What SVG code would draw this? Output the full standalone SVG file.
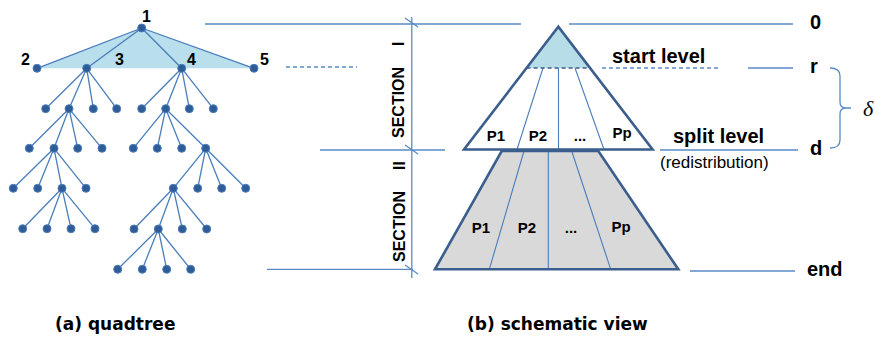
<svg xmlns="http://www.w3.org/2000/svg" width="875" height="349" viewBox="0 0 875 349">
<style>
.e{stroke:#4A7EBB;stroke-width:1.3;fill:none}
.g{stroke:#5B8AC6;stroke-width:1.3;fill:none}
.d{fill:#2F5C97;stroke:#4A7EBB;stroke-width:1}
.o{stroke:#3B5E8C;stroke-width:2.6;fill:none;stroke-linejoin:miter}
.p{stroke:#4A7EBB;stroke-width:1.1;fill:none}
.b{font-family:"Liberation Sans",Arial,sans-serif;font-weight:bold;fill:#000}
.c{font-family:"DejaVu Sans",sans-serif;font-weight:bold;font-size:17px;fill:#000}
.n{font-family:"Liberation Sans",Arial,sans-serif;fill:#000}
</style>
<rect width="875" height="349" fill="#fff"/>
<g id="tree">
<polygon points="141.7,28 37,68.3 254,68.3" fill="#B9DEEC"/>
<g class="e">
<path d="M141.7,28L37,68.3M141.7,28L86.7,68.3M141.7,28L181.7,68.3M141.7,28L254,68.3"/>
<path d="M86.7,68.3L45.7,108.7M86.7,68.3L69,108.7M86.7,68.3L93.3,108.7M86.7,68.3L116.7,108.7"/>
<path d="M181.7,68.3L141.7,108.7M181.7,68.3L165.7,108.7M181.7,68.3L189.3,108.7M181.7,68.3L213.3,108.7"/>
<path d="M69,108.7L29.3,148.3M69,108.7L54,148.3M69,108.7L77.7,148.3M69,108.7L102,148.3"/>
<path d="M165.7,108.7L133.3,148.3M165.7,108.7L157.3,148.3M165.7,108.7L181.7,148.3M165.7,108.7L205.7,148.3"/>
<path d="M54,148.3L13.3,188.3M54,148.3L37.7,188.3M54,148.3L62,188.3M54,148.3L86,188.3"/>
<path d="M205.7,148.3L173.3,188.3M205.7,148.3L197.7,188.3M205.7,148.3L221.7,188.3M205.7,148.3L245.7,188.3"/>
<path d="M62,188.3L22.7,228.7M62,188.3L47,228.7M62,188.3L71,228.7M62,188.3L95,228.7"/>
<path d="M173.3,188.3L134,229M173.3,188.3L158.3,229M173.3,188.3L182.3,229M173.3,188.3L206.7,229"/>
<path d="M158.3,229L117.7,269.3M158.3,229L142.3,269.3M158.3,229L166.7,269.3M158.3,229L190.7,269.3"/>
</g>
<g class="d">
<circle cx="141.7" cy="28" r="4"/>
<circle cx="37" cy="68.3" r="4"/><circle cx="86.7" cy="68.3" r="4"/><circle cx="181.7" cy="68.3" r="4"/><circle cx="254" cy="68.3" r="4"/>
<circle cx="45.7" cy="108.7" r="4"/><circle cx="69" cy="108.7" r="4"/><circle cx="93.3" cy="108.7" r="4"/><circle cx="116.7" cy="108.7" r="4"/>
<circle cx="141.7" cy="108.7" r="4"/><circle cx="165.7" cy="108.7" r="4"/><circle cx="189.3" cy="108.7" r="4"/><circle cx="213.3" cy="108.7" r="4"/>
<circle cx="29.3" cy="148.3" r="4"/><circle cx="54" cy="148.3" r="4"/><circle cx="77.7" cy="148.3" r="4"/><circle cx="102" cy="148.3" r="4"/>
<circle cx="133.3" cy="148.3" r="4"/><circle cx="157.3" cy="148.3" r="4"/><circle cx="181.7" cy="148.3" r="4"/><circle cx="205.7" cy="148.3" r="4"/>
<circle cx="13.3" cy="188.3" r="4"/><circle cx="37.7" cy="188.3" r="4"/><circle cx="62" cy="188.3" r="4"/><circle cx="86" cy="188.3" r="4"/>
<circle cx="173.3" cy="188.3" r="4"/><circle cx="197.7" cy="188.3" r="4"/><circle cx="221.7" cy="188.3" r="4"/><circle cx="245.7" cy="188.3" r="4"/>
<circle cx="22.7" cy="228.7" r="4"/><circle cx="47" cy="228.7" r="4"/><circle cx="71" cy="228.7" r="4"/><circle cx="95" cy="228.7" r="4"/>
<circle cx="134" cy="229" r="4"/><circle cx="158.3" cy="229" r="4"/><circle cx="182.3" cy="229" r="4"/><circle cx="206.7" cy="229" r="4"/>
<circle cx="117.7" cy="269.3" r="4"/><circle cx="142.3" cy="269.3" r="4"/><circle cx="166.7" cy="269.3" r="4"/><circle cx="190.7" cy="269.3" r="4"/>
</g>
<g class="b" font-size="16">
<text x="142" y="22">1</text>
<text x="21" y="65">2</text>
<text x="115" y="65">3</text>
<text x="187" y="65">4</text>
<text x="260" y="65">5</text>
</g>
</g>
<g id="connectors">
<path class="g" d="M205,24H521M569,24H793M320,150H445M267,269.3H413M748,68H793M660,150H798M690,271H795"/>
<path class="g" d="M286,67H357M602,68H718" stroke-dasharray="4,3"/>
<path class="g" d="M411.8,17V278M405,18L418,27M405,145L418,154M405,265L418,274"/>
<path class="g" d="M830,68Q840,68 840,76V102Q840,108 846,108H851M846,108Q840,108 840,114V140Q840,148 830,148"/>
</g>
<g id="section1">
<polygon points="558.3,26.7 464,149.5 652.6,149.5" fill="#fff"/>
<polygon points="558.3,26.7 526.6,68 590,68" fill="#B7DDE8"/>
<path class="p" d="M543,68L517,149.5M558.5,68V149.5M575,68L604,149.5"/>
<path d="M526.6,68H590" stroke="#3B5E8C" stroke-width="1.3" stroke-dasharray="4,3"/>
<polygon class="o" points="558.3,26.7 464,149.5 652.6,149.5"/>
<g class="b" font-size="15" text-anchor="middle">
<text x="496" y="141">P1</text>
<text x="538" y="141">P2</text>
<text x="580" y="141">...</text>
<text x="622" y="138">Pp</text>
</g>
</g>
<g id="section2">
<polygon points="501.7,151 598.3,151 678.3,269.3 435,269.3" fill="#D9D9D9"/>
<path class="p" d="M524,151L489.3,269.3M548.3,151V269.3M571.7,151L610.7,269.3"/>
<polygon class="o" points="501.7,151 598.3,151 678.3,269.3 435,269.3"/>
<g class="b" font-size="15" text-anchor="middle">
<text x="481" y="233">P1</text>
<text x="527" y="233">P2</text>
<text x="571" y="233">...</text>
<text x="621" y="232">Pp</text>
</g>
</g>
<g id="labels">
<text class="b" font-size="16" transform="translate(403.5,138) rotate(-90)">SECTION<tspan x="92">I</tspan></text>
<text class="b" font-size="16" transform="translate(405,262) rotate(-90)">SECTION<tspan x="92">II</tspan></text>
<text class="b" font-size="20" x="612" y="63">start level</text>
<text class="b" font-size="20" x="673" y="143">split level</text>
<text class="n" font-size="17" x="660" y="168">(redistribution)</text>
<text class="b" font-size="20" x="810" y="29">0</text>
<text class="b" font-size="20" x="810" y="73">r</text>
<text class="b" font-size="20" x="810" y="155">d</text>
<text class="b" font-size="20" x="807" y="276">end</text>
<text font-family="Liberation Serif,serif" font-style="italic" font-size="22" x="863" y="116">δ</text>
<text class="c" x="55" y="330">(a) quadtree</text>
<text class="c" x="467" y="330">(b) schematic view</text>
</g>
</svg>
